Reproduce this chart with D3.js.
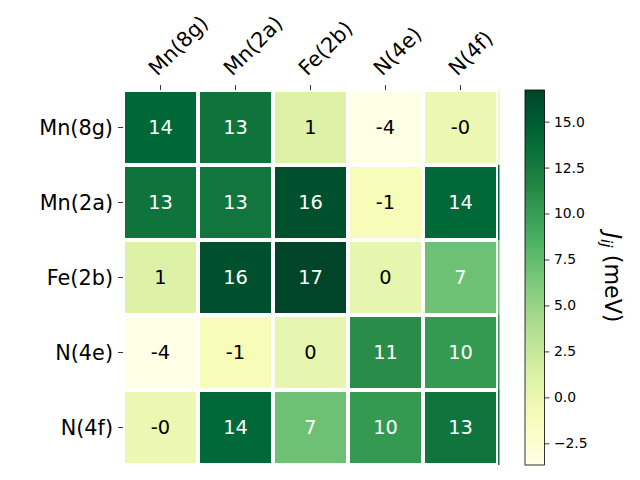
<!DOCTYPE html>
<html><head><meta charset="utf-8">
<script src="https://cdn.jsdelivr.net/npm/d3@7"></script>
<style>body{margin:0;background:#fff}svg{display:block;font-family:"DejaVu Sans",sans-serif}</style>
</head><body><svg id="c" width="640" height="480"></svg>
<script>
const labels = ["Mn(8g)", "Mn(2a)", "Fe(2b)", "N(4e)", "N(4f)"];
const row0 = [14.2, 13.1, 1.0, -3.68, -0.2];
const row1 = [13.1, 12.9, 15.9, -1.1, 14.1];
const row2 = [1.0, 15.9, 16.72, 0.2, 7.0];
const row3 = [-3.68, -1.1, 0.2, 11.1, 10.2];
const row4 = [-0.2, 14.1, 7.0, 10.2, 13.0];
const matrix = [row0, row1, row2, row3, row4];
const vmin = -3.68, vmax = 16.72;
const cbTicks = [-2.5, 0, 2.5, 5, 7.5, 10, 12.5, 15];
const ylgn = ["#ffffe5","#f7fcb9","#d9f0a3","#addd8e","#78c679","#41ab5d","#238443","#006837","#004529"];

const svg = d3.select("#c");
const L = 123, R = 498, T = 90, B = 465;
const x = d3.scaleBand().domain(d3.range(5)).range([L, R]);
const y = d3.scaleBand().domain(d3.range(5)).range([T, B]);
const color = d3.scaleLinear()
  .domain(ylgn.map((_, i) => vmin + (vmax - vmin) * i / (ylgn.length - 1)))
  .range(ylgn).interpolate(d3.interpolateRgb).clamp(true);

const cells = [];
matrix.forEach((r, i) => r.forEach((v, j) => cells.push({i, j, v})));

svg.append("g").selectAll("rect").data(cells).join("rect")
  .attr("x", d => x(d.j)).attr("y", d => y(d.i))
  .attr("width", d => x.bandwidth() + (d.j === 4 ? 1.5 : 0))
  .attr("height", y.bandwidth())
  .attr("fill", d => color(d.v));

svg.append("clipPath").attr("id", "ax").append("rect")
  .attr("x", L).attr("y", T).attr("width", R - L).attr("height", B - T);
const grid = svg.append("g").attr("clip-path", "url(#ax)")
  .attr("stroke", "#fff").attr("stroke-width", 4);
d3.range(6).forEach(k => {
  const px = L + k * x.bandwidth(), py = T + k * y.bandwidth();
  grid.append("line").attr("x1", px).attr("x2", px).attr("y1", T - 5).attr("y2", B + 5);
  grid.append("line").attr("y1", py).attr("y2", py).attr("x1", L - 5).attr("x2", R + 5);
});

svg.append("g").selectAll("text").data(cells).join("text")
  .attr("x", d => x(d.j) + x.bandwidth() / 2)
  .attr("y", d => y(d.i) + y.bandwidth() / 2)
  .attr("text-anchor", "middle").attr("dominant-baseline", "central")
  .attr("font-size", "19.4px")
  .attr("fill", d => d.v > (vmin + vmax) / 2 ? "#fff" : "#000")
  .text(d => { const r = Math.round(d.v); return (r === 0 && d.v < 0) ? "-0" : String(r); });

// ticks
const tk = svg.append("g").attr("stroke", "#000").attr("stroke-width", 0.8);
d3.range(5).forEach(k => {
  const cx = x(k) + x.bandwidth() / 2, cy = y(k) + y.bandwidth() / 2;
  tk.append("line").attr("x1", cx).attr("x2", cx).attr("y1", T - 4.9).attr("y2", T);
  tk.append("line").attr("y1", cy).attr("y2", cy).attr("x1", L - 4.9).attr("x2", L);
});
svg.append("g").selectAll("text").data(labels).join("text")
  .attr("x", L - 10).attr("y", (d, i) => y(i) + y.bandwidth() / 2)
  .attr("text-anchor", "end").attr("dominant-baseline", "central")
  .attr("font-size", "20.8px").attr("fill", "#000").text(d => d);
svg.append("g").selectAll("text").data(labels).join("text")
  .attr("transform", (d, i) => `translate(${x(i) + x.bandwidth() / 2 - 3.3},${76.7}) rotate(-45)`)
  .attr("text-anchor", "start")
  .attr("font-size", "20.8px").attr("fill", "#000").text(d => d);

// colorbar
const cbL = 525, cbR = 544.5;
const cy = d3.scaleLinear().domain([vmin, vmax]).range([B, T]);
const grad = svg.append("defs").append("linearGradient").attr("id", "g")
  .attr("x1", 0).attr("y1", 1).attr("x2", 0).attr("y2", 0);
d3.range(0, 1.0001, 0.05).forEach(t => grad.append("stop")
  .attr("offset", t).attr("stop-color", color(vmin + t * (vmax - vmin))));
svg.append("rect").attr("x", cbL).attr("y", T).attr("width", cbR - cbL).attr("height", B - T)
  .attr("fill", "url(#g)").attr("stroke", "#000").attr("stroke-width", 0.8);
const ax = svg.append("g").attr("transform", `translate(${cbR},0)`)
  .call(d3.axisRight(cy).tickValues(cbTicks).tickSize(4.9).tickPadding(4.5)
    .tickFormat(v => d3.format(".1f")(v).replace("-", "\u2212")));
ax.select(".domain").remove();
ax.selectAll("line").attr("stroke-width", 0.8);
ax.selectAll("text").attr("font-size", "13.9px").attr("font-family", "DejaVu Sans");

const lab = svg.append("text").attr("transform", `translate(605,277.5) rotate(90)`)
  .attr("text-anchor", "middle").attr("font-size", "22.2px").attr("fill", "#000");
lab.append("tspan").attr("font-style", "italic").text("J");
lab.append("tspan").attr("font-style", "italic").attr("font-size", "15.5px").attr("dy", 4).text("ij");
lab.append("tspan").attr("dy", -4).text(" (meV)");
</script></body></html>
